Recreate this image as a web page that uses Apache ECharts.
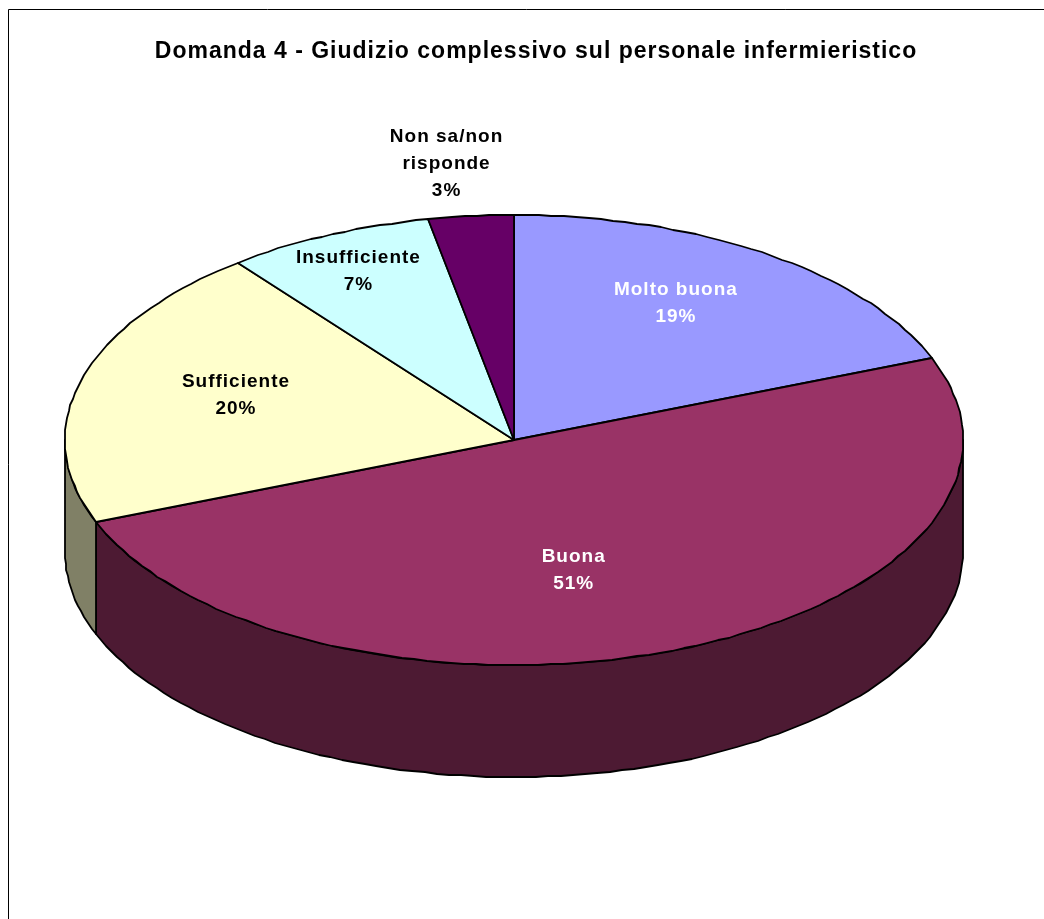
<!DOCTYPE html>
<html>
<head>
<meta charset="utf-8">
<style>html,body{margin:0;padding:0;background:#fff;overflow:hidden}#c{width:1044px;height:919px}</style>
<script src="https://cdn.jsdelivr.net/npm/echarts@6/dist/echarts.min.js"></script>
</head>
<body>
<div id="c"></div>
<script>
// Data as printed in the chart
var titleText = 'Domanda 4 - Giudizio complessivo sul personale infermieristico';
var categories = ['Molto buona', 'Buona', 'Sufficiente', 'Insufficiente', 'Non sa/non\nrisponde'];
var percentLabels = [19, 51, 20, 7, 3];
// Slice sizes as measured from the drawn wedges (% of the turn). The original's
// projection draws "Buona" a little narrower than its printed 51%.
var sliceShares = [19.05, 50.0, 20.4, 7.48, 3.07];
var topColors = ['#9999FF', '#993366', '#FFFFCC', '#CCFFFF', '#660066'];
var wallColors = ['#4D4D80', '#4D1A33', '#808066', '#668080', '#330033'];
var labelColors = ['#FFFFFF', '#FFFFFF', '#000000', '#000000', '#000000'];
// Label distance from the centre, as a fraction of the ellipse point at the slice's mid-angle
var labelReachX = [0.64, 0.364, 0.642, 0.835, 1.56];
var labelReachY = [0.737, 0.621, 0.755, 0.823, 1.235];

// Pie layout
var CX = 514, CY = 440, RX = 449, RY = 225, DEPTH = 112;
var TRACKING = '1px'; // the original's wide glyph spacing

// ECharts has no letter-spacing option: apply it to every canvas text call
['fillText', 'strokeText', 'measureText'].forEach(function (m) {
  var orig = CanvasRenderingContext2D.prototype[m];
  CanvasRenderingContext2D.prototype[m] = function () {
    this.letterSpacing = TRACKING;
    return orig.apply(this, arguments);
  };
});

var total = sliceShares.reduce(function (a, b) { return a + b; }, 0);
var starts = [];
sliceShares.reduce(function (acc, v, i) { starts[i] = acc; return acc + v; }, 0);

function rim(deg, dy) {
  var t = deg * Math.PI / 180;
  return [Math.round(CX + RX * Math.sin(t)), Math.round(CY - RY * Math.cos(t) + (dy || 0))];
}
function arc(a, b, dy) {
  var n = Math.max(2, Math.ceil(Math.abs(b - a) / 1.6)), pts = [];
  for (var i = 0; i <= n; i++) pts.push(rim(a + (b - a) * i / n, dy));
  return pts;
}
var lineStyle = { stroke: '#000', lineWidth: 1.8, lineJoin: 'round' };

function renderItem(params, api) {
  var i = params.dataIndex;
  var share = api.value(1);
  var a = starts[i] / total * 360;
  var b = a + share / total * 360;
  var children = [];
  // Visible outer wall: the front half of the rim
  var wa = Math.max(a, 90), wb = Math.min(b, 270);
  if (wb > wa) {
    children.push({
      type: 'polygon',
      shape: { points: arc(wa, wb, 0).concat(arc(wb, wa, DEPTH)) },
      style: Object.assign({ fill: wallColors[i] }, lineStyle)
    });
  }
  // Top face
  children.push({
    type: 'polygon',
    shape: { points: [[CX, CY]].concat(arc(a, b, 0)) },
    style: Object.assign({ fill: topColors[i] }, lineStyle)
  });
  // Label
  var mid = (a + b) / 2 * Math.PI / 180;
  children.push({
    type: 'text',
    z2: 10,
    x: CX + RX * Math.sin(mid) * labelReachX[i],
    y: CY - RY * Math.cos(mid) * labelReachY[i],
    style: {
      text: categories[i] + '\n' + percentLabels[i] + '%',
      fill: labelColors[i],
      font: 'bold 19px "Liberation Sans", Arial, sans-serif',
      lineHeight: 27,
      align: 'center',
      verticalAlign: 'middle'
    }
  });
  return { type: 'group', children: children };
}

var chart = echarts.init(document.getElementById('c'), null, { renderer: 'canvas' });
chart.setOption({
  animation: false,
  backgroundColor: '#FFFFFF',
  title: {
    text: titleText,
    left: 531,
    top: 35,
    textAlign: 'center',
    textStyle: { fontFamily: '"Liberation Sans", Arial, sans-serif', fontWeight: 'bold', fontSize: 23, color: '#000' }
  },
  graphic: [{
    type: 'rect', z: -10,
    shape: { x: 8.5, y: 9.5, width: 1100, height: 1000 },
    style: { fill: 'none', stroke: '#000', lineWidth: 1 }
  }],
  series: [{
    type: 'custom',
    coordinateSystem: 'none',
    renderItem: renderItem,
    data: categories.map(function (c, i) { return { name: c, value: [i, sliceShares[i]] }; })
  }]
});
</script>
</body>
</html>
